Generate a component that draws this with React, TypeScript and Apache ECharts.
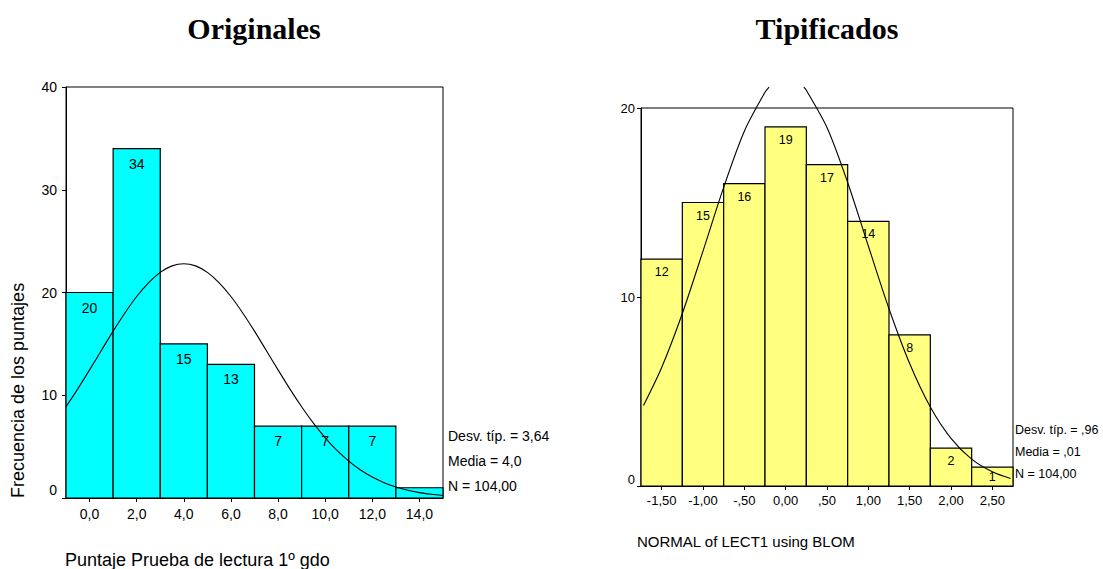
import React, { useEffect, useRef } from "react";
import * as echarts from "echarts";

// ---- Data: Originales ----
const leftBinCenters = [0, 2, 4, 6, 8, 10, 12, 14];
const leftCounts = [20, 34, 15, 13, 7, 7, 7, 1];
const leftBinWidth = 2;
const leftTickValues = [0, 2, 4, 6, 8, 10, 12, 14];
const leftTickLabels = ["0,0", "2,0", "4,0", "6,0", "8,0", "10,0", "12,0", "14,0"];
const leftCurveX = [-1, -0.5, 0, 0.5, 1, 1.5, 2, 2.5, 3, 3.5, 4, 4.5, 5, 5.5, 6, 6.5, 7, 7.5, 8, 8.5, 9, 9.5, 10, 10.5, 11, 11.5, 12, 12.5, 13, 13.5, 14, 14.5, 15];
const leftCurveY = [8.88, 10.62, 12.47, 14.36, 16.24, 18.01, 19.61, 20.94, 21.96, 22.59, 22.8, 22.59, 21.96, 20.94, 19.61, 18.01, 16.24, 14.36, 12.47, 10.62, 8.88, 7.28, 5.86, 4.63, 3.59, 2.73, 2.04, 1.49, 1.07, 0.76, 0.52, 0.36, 0.24];
const leftStats = ["Desv. típ. = 3,64", "Media = 4,0", "N = 104,00"];

// ---- Data: Tipificados ----
const rightBinCenters = [-1.5, -1, -0.5, 0, 0.5, 1, 1.5, 2, 2.5];
const rightCounts = [12, 15, 16, 19, 17, 14, 8, 2, 1];
const rightBinWidth = 0.5;
const rightTickValues = [-1.5, -1, -0.5, 0, 0.5, 1, 1.5, 2, 2.5];
const rightTickLabels = ["-1,50", "-1,00", "-,50", "0,00", ",50", "1,00", "1,50", "2,00", "2,50"];
const rightCurveLeftX = [-1.72, -1.5, -1.25, -1.0, -0.75, -0.5, -0.25, -0.2];
const rightCurveLeftY = [4.26, 6.27, 9.13, 12.43, 15.8, 18.77, 20.83, 21.1];
const rightCurveRightX = [0.22, 0.25, 0.5, 0.75, 1.0, 1.25, 1.5, 1.75, 2.0, 2.25, 2.5, 2.72];
const rightCurveRightY = [21.1, 20.94, 18.97, 16.06, 12.7, 9.38, 6.48, 4.18, 2.52, 1.42, 0.75, 0.4];
const rightStats = ["Desv. típ. = ,96", "Media = ,01", "N = 104,00"];

const SANS = '"Liberation Sans", Arial, sans-serif';
const SERIF = '"Liberation Serif", "Times New Roman", serif';

function zip(xs: number[], ys: number[]) {
  return xs.map((x, i) => [x, ys[i]]);
}

function histRender(width: number, fill: string, fontSize: number, dist: number) {
  return (params: any, api: any) => {
    const x = api.value(0);
    const y = api.value(1);
    const p1 = api.coord([x - width / 2, y]);
    const p2 = api.coord([x + width / 2, 0]);
    const h = p2[1] - p1[1];
    const children: any[] = [
      {
        type: "rect",
        shape: { x: p1[0], y: p1[1], width: p2[0] - p1[0], height: h },
        style: { fill, stroke: "#000", lineWidth: 1.2 },
      },
    ];
    if (h > fontSize) {
      children.push({
        type: "text",
        x: (p1[0] + p2[0]) / 2,
        y: Math.min(p1[1] + dist, p1[1] + h / 2),
        style: {
          text: String(y),
          font: `${fontSize}px ${SANS}`,
          fill: "#000",
          align: "center",
          verticalAlign: "middle",
        },
      });
    }
    return { type: "group", children };
  };
}

export default function App() {
  const ref = useRef<HTMLDivElement>(null);
  useEffect(() => {
    if (!ref.current) return;
    const chart = echarts.init(ref.current, undefined, { renderer: "svg" });
    const axisBase = {
      axisLine: { show: true, onZero: false, lineStyle: { color: "#000", width: 1 } },
      axisTick: { show: true, length: 4, lineStyle: { color: "#000" } },
      splitLine: { show: false },
    };
    chart.setOption({
      animation: false,
      backgroundColor: "#fff",
      grid: [
        { left: 66, top: 87, width: 377, height: 411, show: true, borderColor: "#000", borderWidth: 1, backgroundColor: "#fff" },
        { left: 641, top: 108, width: 372, height: 378, show: true, borderColor: "#000", borderWidth: 1, backgroundColor: "#fff" },
      ],
      xAxis: [
        {
          ...axisBase,
          type: "value",
          gridIndex: 0,
          min: -1,
          max: 15,
          axisTick: { show: true, length: 4, lineStyle: { color: "#000" }, customValues: leftTickValues },
          axisLabel: {
            customValues: leftTickValues,
            margin: 9,
            color: "#000",
            fontSize: 14,
            fontFamily: SANS,
            formatter: (v: number) => leftTickLabels[leftTickValues.indexOf(v)] ?? "",
          },
        },
        {
          ...axisBase,
          type: "value",
          gridIndex: 1,
          min: -1.75,
          max: 2.75,
          axisTick: { show: true, length: 4, lineStyle: { color: "#000" }, customValues: rightTickValues },
          axisLabel: {
            customValues: rightTickValues,
            margin: 8,
            color: "#000",
            fontSize: 13,
            fontFamily: SANS,
            formatter: (v: number) => rightTickLabels[rightTickValues.indexOf(v)] ?? "",
          },
        },
      ],
      yAxis: [
        {
          ...axisBase,
          type: "value",
          gridIndex: 0,
          min: 0,
          max: 40,
          interval: 10,
          axisLabel: {
            margin: 9,
            color: "#000",
            fontSize: 14,
            fontFamily: SANS,
            formatter: (v: number) => (v === 0 ? "{z|0}" : String(v)),
            rich: { z: { fontSize: 14, fontFamily: SANS, color: "#000", padding: [0, 0, 16, 0] } },
          },
        },
        {
          ...axisBase,
          type: "value",
          gridIndex: 1,
          min: 0,
          max: 20,
          interval: 10,
          axisLabel: {
            margin: 6,
            color: "#000",
            fontSize: 13,
            fontFamily: SANS,
            formatter: (v: number) => (v === 0 ? "{z|0}" : String(v)),
            rich: { z: { fontSize: 13, fontFamily: SANS, color: "#000", padding: [0, 0, 14, 0] } },
          },
        },
      ],
      series: [
        {
          type: "custom",
          xAxisIndex: 0,
          yAxisIndex: 0,
          renderItem: histRender(leftBinWidth, "#00FFFF", 14, 15),
          encode: { x: 0, y: 1 },
          data: zip(leftBinCenters, leftCounts),
          z: 2,
        },
        {
          type: "line",
          xAxisIndex: 0,
          yAxisIndex: 0,
          data: zip(leftCurveX, leftCurveY),
          smooth: 0.3,
          showSymbol: false,
          symbol: "none",
          lineStyle: { color: "#000", width: 1.1 },
          z: 3,
        },
        {
          type: "custom",
          xAxisIndex: 1,
          yAxisIndex: 1,
          renderItem: histRender(rightBinWidth, "#FFFF80", 12.5, 13),
          encode: { x: 0, y: 1 },
          data: zip(rightBinCenters, rightCounts),
          z: 2,
        },
        {
          type: "line",
          xAxisIndex: 1,
          yAxisIndex: 1,
          data: zip(rightCurveLeftX, rightCurveLeftY),
          smooth: 0.3,
          clip: false,
          showSymbol: false,
          symbol: "none",
          lineStyle: { color: "#000", width: 1.1 },
          z: 3,
        },
        {
          type: "line",
          xAxisIndex: 1,
          yAxisIndex: 1,
          data: zip(rightCurveRightX, rightCurveRightY),
          smooth: 0.3,
          clip: false,
          showSymbol: false,
          symbol: "none",
          lineStyle: { color: "#000", width: 1.1 },
          z: 3,
        },
      ],
      graphic: [
        { type: "text", x: 254, y: 28, style: { text: "Originales", font: `bold 30px ${SERIF}`, fill: "#000", align: "center", verticalAlign: "middle" } },
        { type: "text", x: 827, y: 28, style: { text: "Tipificados", font: `bold 30px ${SERIF}`, fill: "#000", align: "center", verticalAlign: "middle" } },
        { type: "text", x: 17.5, y: 498, rotation: Math.PI / 2, style: { text: "Frecuencia de los puntajes", font: `18px ${SANS}`, fill: "#000", align: "left", verticalAlign: "middle" } },
        { type: "text", x: 65, y: 560, style: { text: "Puntaje Prueba de lectura 1º gdo", font: `18px ${SANS}`, fill: "#000", align: "left", verticalAlign: "middle" } },
        { type: "text", x: 637, y: 541, style: { text: "NORMAL of LECT1 using BLOM", font: `15px ${SANS}`, fill: "#000", align: "left", verticalAlign: "middle" } },
        ...leftStats.map((t, i) => ({ type: "text", x: 448, y: 436 + i * 25, style: { text: t, font: `14px ${SANS}`, fill: "#000", align: "left", verticalAlign: "middle" } })),
        ...rightStats.map((t, i) => ({ type: "text", x: 1015, y: 430 + i * 22, style: { text: t, font: `12.5px ${SANS}`, fill: "#000", align: "left", verticalAlign: "middle" } })),
      ],
    });
    return () => chart.dispose();
  }, []);
  return <div ref={ref} style={{ position: "fixed", left: 0, top: 0, width: 1103, height: 569, background: "#fff" }} />;
}
